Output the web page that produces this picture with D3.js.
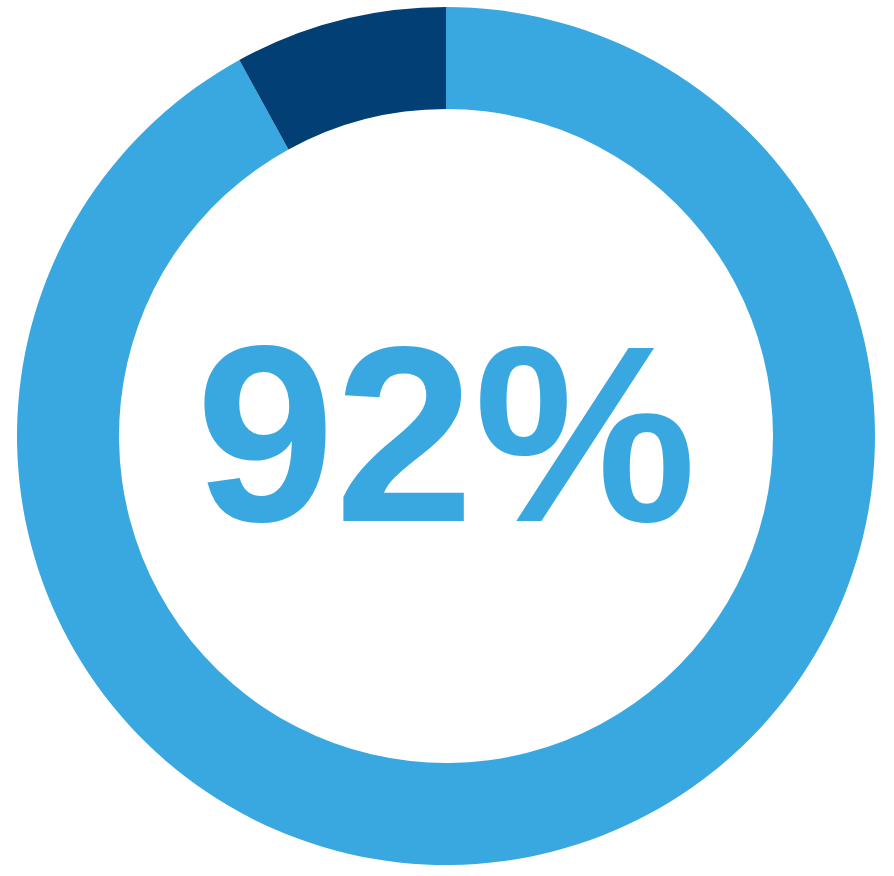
<!DOCTYPE html>
<html lang="en">
<head>
  <meta charset="UTF-8">
  <script src="https://d3js.org/d3.v7.min.js"></script>
  <style>
    body { margin: 0; background: #ffffff; }
  </style>
</head>
<body>
  <svg id="chart"></svg>
  <script>
    const labels = ["Yes", "No"];
    const values = [92, 8];
    const colors = ["#3AA8E0", "#023F74"];
    const centerLabel = "92%";

    const width = 894;
    const height = 876;
    const cx = 446, cy = 436;
    const outerRadius = 429, innerRadius = 327;

    const svg = d3.select("#chart")
      .attr("width", width)
      .attr("height", height);

    const g = svg.append("g")
      .attr("transform", `translate(${cx}, ${cy})`);

    const pie = d3.pie().sort(null).value(d => d);
    const arc = d3.arc().innerRadius(innerRadius).outerRadius(outerRadius);

    g.selectAll("path")
      .data(pie(values))
      .enter()
      .append("path")
      .attr("d", arc)
      .attr("fill", (d, i) => colors[i]);

    g.append("text")
      .attr("x", 0)
      .attr("y", 85)
      .attr("text-anchor", "middle")
      .attr("font-family", "Liberation Sans, Arial, sans-serif")
      .attr("font-weight", "bold")
      .attr("font-size", 250)
      .attr("fill", colors[0])
      .text(centerLabel);
  </script>
</body>
</html>
